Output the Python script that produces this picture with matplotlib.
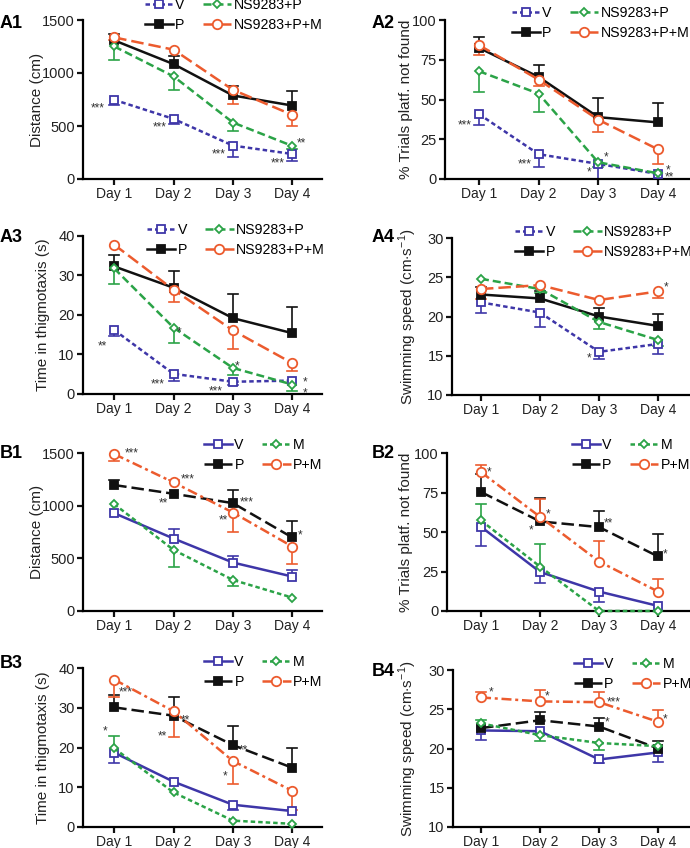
import numpy as np
import matplotlib.pyplot as plt
from matplotlib.lines import Line2D

plt.rcParams['font.family'] = ['Liberation Sans', 'DejaVu Sans']
plt.rcParams['mathtext.fontset'] = 'custom'
plt.rcParams['mathtext.rm'] = 'Liberation Sans'

days = ['Day 1', 'Day 2', 'Day 3', 'Day 4']

# means and one-sided errors (sign = direction of the bar, 0 = not shown)
a1_v = [747, 567, 315, 236];     a1_v_err = [-50, -47, -104, -66]
a1_p = [1308, 1084, 788, 693];   a1_p_err = [56, 79, 91, 139]
a1_ns = [1251, 968, 533, 312];   a1_ns_err = [-132, -133, -79, -30]
a1_nsm = [1336, 1220, 841, 605]; a1_nsm_err = [-25, 0, -132, -104]

a2_v = [40.8, 15.6, 9.5, 3.2];   a2_v_err = [-6.9, -7.8, -9.5, 0]
a2_p = [82.5, 64.2, 38.9, 35.6]; a2_p_err = [6.8, 7.6, 12.3, 12.0]
a2_ns = [67.8, 53.7, 10.5, 3.6]; a2_ns_err = [-13.3, -11.8, -3, 0]
a2_nsm = [84.2, 62.5, 37.3, 18.7]; a2_nsm_err = [-6.3, -4, -8, -9.2]

a3_v = [16.2, 5.1, 3.1, 3.4];    a3_v_err = [-1.6, -1.7, -0.8, 0]
a3_p = [32.3, 26.9, 19.2, 15.4]; a3_p_err = [2.9, 4.3, 6.0, 6.7]
a3_ns = [31.8, 16.8, 6.6, 2.4];  a3_ns_err = [-4.0, -3.9, -1.7, -1.7]
a3_nsm = [37.8, 26.4, 16.1, 7.8]; a3_nsm_err = [0, -3.0, -4.7, -2.1]

a4_v = [21.8, 20.5, 15.5, 16.5]; a4_v_err = [-1.3, -1.9, -0.9, -1.3]
a4_p = [22.8, 22.3, 20.0, 18.8]; a4_p_err = [0.9, 1.0, 1.1, 1.5]
a4_ns = [24.8, 23.5, 19.3, 17.0]; a4_ns_err = [0, -0.5, -0.9, -0.8]
a4_nsm = [23.5, 24.0, 22.1, 23.2]; a4_nsm_err = [-1.3, 0, 0, -0.8]

b1_v = [929, 688, 460, 327];     b1_v_err = [0, 95, 63, 63]
b1_p = [1196, 1113, 1024, 698];  b1_p_err = [50, 0, 121, 155]
b1_m = [1015, 580, 295, 127];    b1_m_err = [0, -158, -54, 0]
b1_pm = [1490, 1221, 935, 612];  b1_pm_err = [-69, 25, -187, -165]

b2_v = [53.3, 24.7, 12.3, 3.2];  b2_v_err = [-12.3, -6.8, -6.4, 0]
b2_p = [75.3, 56.7, 53.1, 34.5]; b2_p_err = [11.4, 14.8, 10.3, 14.1]
b2_m = [57.3, 28.1, 0, 0];       b2_m_err = [10.6, 14.2, 0, 0]
b2_pm = [87.9, 59.6, 31.3, 12.3]; b2_pm_err = [4.7, 11.2, 13.3, 7.8]

b3_v = [18.7, 11.4, 5.6, 4.0];   b3_v_err = [-2.5, 0, -1.4, 0]
b3_p = [30.1, 28.0, 20.6, 14.9]; b3_p_err = [3.2, 4.7, 4.7, 5.1]
b3_m = [19.8, 8.7, 1.6, 0.8];    b3_m_err = [3.2, 0, 0, 0]
b3_pm = [37.1, 29.1, 16.6, 9.1]; b3_pm_err = [-4.3, -6.4, -5.7, -4.9]

b4_v = [22.3, 22.2, 18.6, 19.5]; b4_v_err = [-1.2, 0, -0.4, -1.2]
b4_p = [22.6, 23.6, 22.8, 20.0]; b4_p_err = [0, 1.0, 1.1, 0.9]
b4_m = [23.2, 21.7, 20.7, 20.3]; b4_m_err = [0.4, -0.8, -0.9, 0]
b4_pm = [26.5, 26.0, 25.9, 23.4]; b4_pm_err = [0.7, 1.4, 1.3, 1.5]

# significance marks: (series, day index, text, dx px, dy px)
a1_sig = [('V', 0, '***', -16, -7), ('V', 1, '***', -14, -7), ('V', 2, '***', -14, -7),
          ('V', 3, '***', -15, -7), ('NS9283+P', 3, '**', 9, 4)]
a2_sig = [('V', 0, '***', -14, -9), ('V', 1, '***', -14, -8), ('NS9283+P', 2, '*', 8, 7),
          ('V', 2, '*', -9, -7), ('NS9283+P', 3, '*', 10, 5), ('V', 3, '**', 12, -2)]
a3_sig = [('V', 0, '**', -12, -14), ('NS9283+P', 1, '*', 6, -3), ('V', 1, '***', -16, -9),
          ('NS9283+P', 2, '*', 4, 3), ('V', 2, '***', -17, -8), ('V', 3, '*', 13, 0),
          ('NS9283+P', 3, '*', 13, -7)]
a4_sig = [('V', 2, '*', -10, -5), ('NS9283+P+M', 3, '*', 8, 6)]
b1_sig = [('P+M', 0, '***', 18, 3), ('P+M', 1, '***', 14, 5), ('P', 1, '**', -10, -8),
          ('P', 2, '***', 14, 3), ('P+M', 2, '**', -10, -6), ('P', 3, '*', 8, 4)]
b2_sig = [('P+M', 0, '*', 8, 2), ('P', 1, '*', 8, 9), ('P', 1, '*', -9, -7),
          ('P', 2, '**', 9, 6), ('P', 3, '*', 7, 4)]
b3_sig = [('P+M', 0, '***', 12, -11), ('M', 0, '*', -9, 19), ('P', 1, '**', 12, -3),
          ('P', 1, '**', -11, -19), ('P', 2, '**', 10, -3), ('P+M', 2, '*', -8, -13)]
b4_sig = [('P+M', 0, '*', 10, 7), ('P+M', 1, '*', 7, 7), ('P+M', 2, '***', 15, 2),
          ('P', 2, '*', 8, 6), ('P+M', 3, '*', 7, 4)]

BLUE = '#3e36a8'
GREEN = '#2ba347'
ORANGE = '#ec5b2e'
BLACK = '#111111'

sty_a = {
    'V': dict(color=BLUE, marker='s', mfc='white', ms=6, dashes=(1.8, 1.2)),
    'P': dict(color=BLACK, marker='s', mfc=BLACK, ms=5.2, ls='-'),
    'NS9283+P': dict(color=GREEN, marker='D', mfc='white', ms=4.3, dashes=(3.2, 1.6)),
    'NS9283+P+M': dict(color=ORANGE, marker='o', mfc='white', ms=6.8, dashes=(5, 2)),
}
sty_b = {
    'V': dict(color=BLUE, marker='s', mfc='white', ms=6, ls='-'),
    'P': dict(color=BLACK, marker='s', mfc=BLACK, ms=5.2, dashes=(5, 2)),
    'M': dict(color=GREEN, marker='D', mfc='white', ms=4.3, dashes=(1.8, 1.2)),
    'P+M': dict(color=ORANGE, marker='o', mfc='white', ms=6.8, dashes=(4, 1.5, 1.2, 1.5)),
}

fig = plt.figure(figsize=(6.9, 8.48), dpi=100)
W, H = 690, 848


def make_ax(left, top, right, bottom):
    return fig.add_axes([left / W, 1 - bottom / H, (right - left) / W, (bottom - top) / H])


def panel(ax, series, styles, sig, ylim, yticks, ylabel, xlim, leg_xy, lab_x):
    x = np.arange(1, 5)
    pts = {}
    for lab, mean, err in series:
        st = dict(styles[lab])
        c = st.pop('color')
        mean = np.array(mean, float)
        pts[lab] = mean
        for xi, m, e in zip(x, mean, err):
            if e != 0:
                ax.plot([xi, xi], [m, m + e], color=c, lw=1.2, zorder=2, solid_capstyle='butt')
                ax.plot([xi - 0.085, xi + 0.085], [m + e, m + e], color=c, lw=1.2, zorder=2)
        ax.plot(x, mean, color=c, mec=c, lw=1.8, mew=1.3, zorder=3, clip_on=False, **st)
    for lab, d, txt, dx, dy in sig:
        ax.annotate(txt, xy=(x[d], pts[lab][d]), xytext=(dx, dy - 2), textcoords='offset pixels',
                    ha='center', va='center', fontsize=8.5, color='#333333')
    ax.set_xlim(*xlim)
    ax.set_ylim(*ylim)
    ax.set_yticks(yticks)
    ax.set_xticks(x)
    ax.set_xticklabels(days)
    for s in ['top', 'right']:
        ax.spines[s].set_visible(False)
    for s in ['left', 'bottom']:
        ax.spines[s].set_linewidth(1.6)
    ax.tick_params(width=1.6, length=4.5, colors='#111111', labelcolor='#222222', pad=1.5)
    ax.tick_params(axis='y', labelsize=10.5)
    ax.tick_params(axis='x', labelsize=10)
    ax.set_ylabel(ylabel, fontsize=11, color='#222222')
    ax.yaxis.set_label_coords(lab_x, 0.5)
    handles = []
    for lab, _, _ in series:
        st = dict(styles[lab])
        c = st.pop('color')
        handles.append(Line2D([], [], color=c, mec=c, lw=1.8, mew=1.3, **st))
    labels = [s[0] for s in series]
    ax.legend(handles, labels, ncol=2, loc='center left', bbox_to_anchor=leg_xy, frameon=False,
              borderaxespad=0, borderpad=0, handlelength=2.0, handletextpad=0.15,
              columnspacing=1.3, labelspacing=0.38, fontsize=10.2, numpoints=1)
    return ax


def label(txt, x, y):
    fig.text(x / W, 1 - y / H, txt, fontsize=13, fontweight='bold', ha='left', va='center')


speed = r'Swimming speed (cm$\cdot$s$^{-1}$)'
trials = '% Trials platf. not found'

ax = make_ax(83, 20, 322, 179)
panel(ax, [('V', a1_v, a1_v_err), ('P', a1_p, a1_p_err), ('NS9283+P', a1_ns, a1_ns_err),
           ('NS9283+P+M', a1_nsm, a1_nsm_err)], sty_a, a1_sig,
      (0, 1500), [0, 500, 1000, 1500], 'Distance (cm)', (0.475, 4.5), (0.259, 1.031), -0.163)

ax = make_ax(445, 20, 690, 179)
panel(ax, [('V', a2_v, a2_v_err), ('P', a2_p, a2_p_err), ('NS9283+P', a2_ns, a2_ns_err),
           ('NS9283+P+M', a2_nsm, a2_nsm_err)], sty_a, a2_sig,
      (0, 100), [0, 25, 50, 75, 100], trials, (0.43, 4.54), (0.273, 0.981), -0.13)

ax = make_ax(83, 236, 322, 394)
panel(ax, [('V', a3_v, a3_v_err), ('P', a3_p, a3_p_err), ('NS9283+P', a3_ns, a3_ns_err),
           ('NS9283+P+M', a3_nsm, a3_nsm_err)], sty_a, a3_sig,
      (0, 40), [0, 10, 20, 30, 40], 'Time in thigmotaxis (s)', (0.475, 4.5), (0.268, 0.975), -0.138)

ax = make_ax(452, 238, 690, 395)
panel(ax, [('V', a4_v, a4_v_err), ('P', a4_p, a4_p_err), ('NS9283+P', a4_ns, a4_ns_err),
           ('NS9283+P+M', a4_nsm, a4_nsm_err)], sty_a, a4_sig,
      (10, 30), [10, 15, 20, 25, 30], speed, (0.51, 4.54), (0.265, 0.975), -0.139)

ax = make_ax(83, 453, 322, 611)
panel(ax, [('V', b1_v, b1_v_err), ('P', b1_p, b1_p_err), ('M', b1_m, b1_m_err),
           ('P+M', b1_pm, b1_pm_err)], sty_b, b1_sig,
      (0, 1500), [0, 500, 1000, 1500], 'Distance (cm)', (0.475, 4.5), (0.506, 0.987), -0.163)

ax = make_ax(447, 453, 690, 611)
panel(ax, [('V', b2_v, b2_v_err), ('P', b2_p, b2_p_err), ('M', b2_m, b2_m_err),
           ('P+M', b2_pm, b2_pm_err)], sty_b, b2_sig,
      (0, 100), [0, 25, 50, 75, 100], trials, (0.424, 4.54), (0.514, 0.987), -0.14)

ax = make_ax(83, 668, 322, 827)
panel(ax, [('V', b3_v, b3_v_err), ('P', b3_p, b3_p_err), ('M', b3_m, b3_m_err),
           ('P+M', b3_pm, b3_pm_err)], sty_b, b3_sig,
      (0, 40), [0, 10, 20, 30, 40], 'Time in thigmotaxis (s)', (0.475, 4.5), (0.506, 0.975), -0.138)

ax = make_ax(453, 670, 690, 827)
panel(ax, [('V', b4_v, b4_v_err), ('P', b4_p, b4_p_err), ('M', b4_m, b4_m_err),
           ('P+M', b4_pm, b4_pm_err)], sty_b, b4_sig,
      (10, 30), [10, 15, 20, 25, 30], speed, (0.525, 4.54), (0.51, 0.975), -0.143)

label('A1', 0, 23)
label('A2', 372, 23)
label('A3', 0, 237)
label('A4', 372, 237)
label('B1', 0, 453)
label('B2', 372, 453)
label('B3', 0, 663)
label('B4', 372, 672)

fig.savefig('out.png', dpi=100)
